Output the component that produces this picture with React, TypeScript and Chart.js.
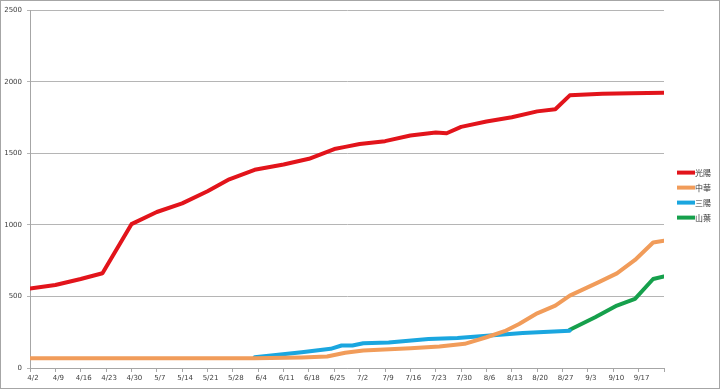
import React, { useEffect, useRef } from "react";
import { Chart, registerables } from "chart.js";

Chart.register(...registerables);

const YEAR = 2014;

const xTickLabels = [
  "4/2", "4/9", "4/16", "4/23", "4/30", "5/7", "5/14", "5/21", "5/28",
  "6/4", "6/11", "6/18", "6/25", "7/2", "7/9", "7/16", "7/23", "7/30",
  "8/6", "8/13", "8/20", "8/27", "9/3", "9/10", "9/17",
];
const yMax = 2500;
const yStep = 500;

const seriesNames = ["光陽", "中華", "三陽", "山葉"];
const seriesColors = ["#E2141B", "#F19C5A", "#1AA6DF", "#16A04C"];

const kymcoDates = [
  "4/2", "4/9", "4/16", "4/22", "4/30", "5/7", "5/14", "5/21", "5/27", "6/3",
  "6/11", "6/18", "6/25", "6/28", "7/2", "7/9", "7/16", "7/23", "7/26", "7/30",
  "8/6", "8/13", "8/20", "8/25", "8/29", "9/7", "9/15", "9/24",
];
const kymcoValues = [
  555, 580, 622, 662, 1005, 1090, 1150, 1235, 1318, 1385,
  1422, 1462, 1530, 1545, 1565, 1585, 1625, 1645, 1640, 1685,
  1722, 1752, 1793, 1808, 1905, 1917, 1920, 1923,
];

const cmcDates = [
  "4/2", "6/3", "6/16", "6/23", "6/28", "7/3", "7/16", "7/24", "7/31", "8/6",
  "8/11", "8/15", "8/20", "8/25", "8/29", "9/6", "9/11", "9/16", "9/21", "9/24",
];
const cmcValues = [
  68, 68, 74, 80, 106, 122, 138, 150, 169, 215,
  257, 308, 382, 436, 506, 600, 661, 755, 877, 889,
];

const symDates = [
  "6/3", "6/16", "6/24", "6/27", "6/30", "7/3", "7/10", "7/21", "7/29", "8/7",
  "8/16", "8/29",
];
const symValues = [75, 110, 134, 157, 157, 173, 178, 203, 210, 227, 245, 261];

const yamahaDates = ["8/29", "9/5", "9/11", "9/16", "9/21", "9/24"];
const yamahaValues = [267, 355, 436, 483, 622, 640];

const dayOf = (s: string) => {
  const [m, d] = s.split("/").map(Number);
  return Math.round((Date.UTC(YEAR, m - 1, d) - Date.UTC(YEAR, 3, 2)) / 86400000);
};
const toXY = (dates: string[], vals: number[]) =>
  dates.map((d, i) => ({ x: dayOf(d), y: vals[i] }));

const tickFont = { family: "'DejaVu Sans', Verdana, sans-serif", size: 7 };
const tickColor = "#404040";
const axisColor = "#a6a6a6";

const sideLegend = {
  id: "sideLegend",
  afterDraw(chart: any) {
    const ctx = chart.ctx;
    const { right, top, bottom } = chart.chartArea;
    const x0 = right + 13;
    const cy = (top + bottom) / 2 + 6;
    chart.data.datasets.forEach((ds: any, i: number) => {
      const y = cy + (i - 1.5) * 15;
      ctx.save();
      ctx.strokeStyle = ds.borderColor;
      ctx.lineWidth = 4;
      ctx.beginPath();
      ctx.moveTo(x0, y);
      ctx.lineTo(x0 + 18, y);
      ctx.stroke();
      ctx.fillStyle = "#333";
      ctx.font = "8px 'Noto Sans CJK TC'";
      ctx.textBaseline = "middle";
      ctx.textAlign = "left";
      ctx.fillText(ds.label, x0 + 18, y + 0.5);
      ctx.restore();
    });
  },
};

export default function App() {
  const ref = useRef<HTMLCanvasElement>(null);
  useEffect(() => {
    document.body.style.margin = "0";
    const seriesData = [
      toXY(kymcoDates, kymcoValues),
      toXY(cmcDates, cmcValues),
      toXY(symDates, symValues),
      toXY(yamahaDates, yamahaValues),
    ];
    const lastDay = xTickLabels.length * 7;
    const chart = new Chart(ref.current!, {
      type: "line",
      data: {
        datasets: seriesData.map((data, i) => ({
          label: seriesNames[i],
          data,
          borderColor: seriesColors[i],
          backgroundColor: seriesColors[i],
          borderWidth: 4,
          pointRadius: 0,
          tension: 0,
          fill: false,
          borderJoinStyle: "round" as const,
          borderCapStyle: "round" as const,
        })),
      },
      options: {
        animation: false,
        responsive: false,
        maintainAspectRatio: false,
        layout: { padding: { left: 2, right: 55, top: 8, bottom: 0 } },
        plugins: {
          legend: { display: false },
          tooltip: { enabled: false },
        },
        scales: {
          x: {
            type: "linear",
            min: 0,
            max: lastDay,
            ticks: {
              stepSize: 7,
              autoSkip: false,
              maxRotation: 0,
              minRotation: 0,
              labelOffset: 3,
              padding: 2,
              font: tickFont,
              color: tickColor,
              callback: (v: any) => xTickLabels[Math.round(Number(v) / 7)] ?? "",
            },
            grid: { drawOnChartArea: false, drawTicks: true, tickLength: 4, color: axisColor },
            border: { color: axisColor },
            afterFit: (s: any) => {
              s.height = 20;
            },
          },
          y: {
            min: 0,
            max: yMax,
            ticks: {
              stepSize: yStep,
              padding: 5,
              font: tickFont,
              color: tickColor,
              callback: (v: any) => String(v),
            },
            grid: { color: "#b5b5b5", tickLength: 3 },
            border: { color: axisColor },
            afterFit: (s: any) => {
              s.width = 27;
            },
          },
        },
      },
      plugins: [sideLegend],
    });
    return () => chart.destroy();
  }, []);

  return (
    <div
      style={{
        position: "absolute",
        left: 0,
        top: 0,
        width: 720,
        height: 389,
        border: "1px solid #a6a6a6",
        boxSizing: "border-box",
        background: "#fff",
      }}
    >
      <canvas ref={ref} width={718} height={387} style={{ display: "block" }} />
    </div>
  );
}
